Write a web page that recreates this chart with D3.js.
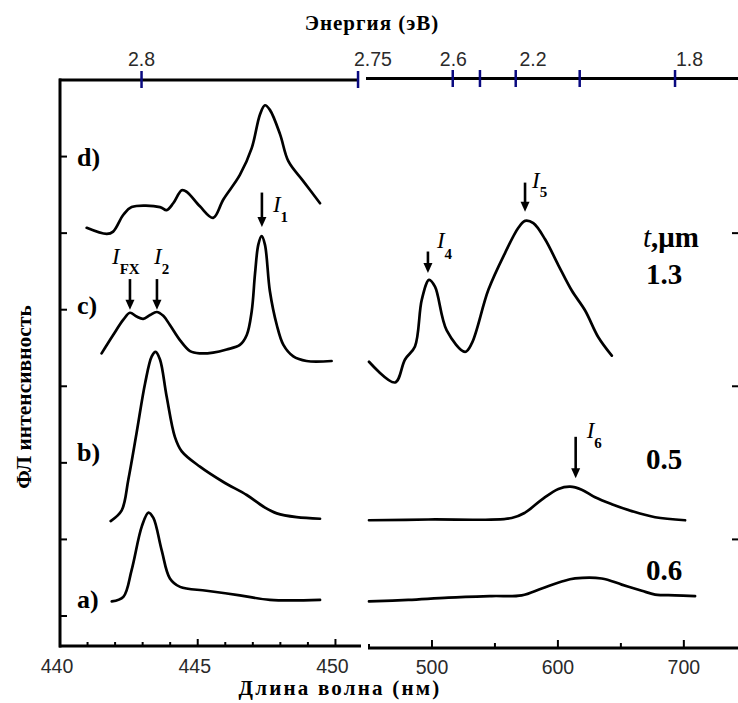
<!DOCTYPE html>
<html><head><meta charset="utf-8">
<script src="https://cdn.jsdelivr.net/npm/d3@7"></script>
<style>body{margin:0;background:#fff}svg{display:block}</style>
</head><body>
<svg id="chart" width="738" height="703"></svg>
<script>
// ---------- data (wavelength nm, intensity in tick units) ----------
const curveLabels = ["a)", "b)", "c)", "d)"];
const curveLabelLevel = [0.10, 2.02, 3.95, 5.88];
const thicknessLabels = ["0.6", "0.5", "1.3"];
const thicknessLevel = [0.47, 1.92, 4.34];
const thicknessTitleLevel = 4.82;

const aLeft = [[441.88,0.19],[442.30,0.25],[442.60,0.60],[442.97,1.17],[443.21,1.35],[443.39,1.28],[443.69,0.86],[443.99,0.49],[444.36,0.38],[445.32,0.33],[446.53,0.27],[447.62,0.21],[449.44,0.21]];
const aRight = [[450,0.19],[481.2,0.21],[513.0,0.24],[547.5,0.26],[571.3,0.27],[587.2,0.36],[603.1,0.45],[613.6,0.49],[634.8,0.49],[650.7,0.41],[666.6,0.33],[677.2,0.28],[693.0,0.27],[708.9,0.26]];
const bLeft = [[441.84,1.24],[442.24,1.38],[442.48,1.78],[442.78,2.39],[443.09,3.04],[443.33,3.39],[443.47,3.45],[443.63,3.35],[443.87,2.87],[444.17,2.34],[444.42,2.15],[445.08,1.95],[445.93,1.75],[446.78,1.58],[447.38,1.43],[447.87,1.34],[448.59,1.29],[449.44,1.27]];
const bRight = [[450,1.25],[497.1,1.26],[563.3,1.28],[573.9,1.35],[587.2,1.52],[600.4,1.66],[609.7,1.69],[618.9,1.65],[629.5,1.55],[642.8,1.46],[658.7,1.37],[677.2,1.29],[701.0,1.25]];
const cLeft = [[441.51,3.43],[441.93,3.67],[442.30,3.87],[442.54,3.96],[442.78,3.91],[443.02,3.88],[443.27,3.93],[443.51,3.97],[443.75,3.92],[443.99,3.80],[444.36,3.60],[444.72,3.46],[445.08,3.43],[445.56,3.44],[446.05,3.48],[446.53,3.54],[446.78,3.67],[446.96,3.98],[447.08,4.47],[447.20,4.85],[447.32,4.96],[447.44,4.85],[447.62,4.24],[447.87,3.80],[448.11,3.54],[448.47,3.39],[448.95,3.33],[449.86,3.33]];
const cRight = [[450,3.32],[470.7,3.05],[478.6,3.35],[486.5,3.52],[491.9,4.13],[497.7,4.39],[502.4,4.30],[511.7,3.73],[526.3,3.45],[531.6,3.56],[544.8,4.26],[558.0,4.74],[568.6,5.07],[573.9,5.16],[580.5,5.13],[589.8,4.92],[600.4,4.58],[611.0,4.25],[621.6,3.99],[632.1,3.64],[642.8,3.40]];
const dLeft = [[440.97,5.07],[441.70,4.99],[441.93,5.02],[442.30,5.24],[442.60,5.34],[443.63,5.34],[443.87,5.30],[444.11,5.39],[444.42,5.56],[444.60,5.54],[445.08,5.35],[445.56,5.20],[445.93,5.44],[446.53,5.76],[446.96,6.11],[447.26,6.55],[447.44,6.67],[447.62,6.61],[447.99,6.29],[448.29,5.94],[448.83,5.68],[449.44,5.39]];

// axis ticks
const leftMajor = [440, 445, 450];
const leftMinor = [441, 442, 443, 444, 446, 447, 448, 449];
const rightMajor = [500, 600, 700];
const rightMinor = [550, 650];
const yTicks = [0, 1, 2, 3, 4, 5, 6];
const yTicksRight = [1, 3, 5];
// top energy axis: tick positions read in nm, labels in eV
const topTicksLeft = [442.96, 450.82];
const topTicksRight = [516.5, 538.1, 566.5, 617.3, 693.0];
const topLabels = ["2.8", "2.75", "2.6", "2.2", "1.8"];
const topLabelNm = [442.96, 451.36, 517.0, 580.2, 704.5];
const topLabelPanel = [0, 0, 1, 1, 1];

// peak arrows: [nm, panel, fromLevel, toLevel, subscript]
const arrows = [
  [442.54, 0, 4.40, 4.00, "FX"],
  [443.52, 0, 4.40, 4.00, "2"],
  [447.33, 0, 5.53, 5.08, "1"],
  [496.8, 1, 4.76, 4.48, "4"],
  [573.9, 1, 5.66, 5.28, "5"],
  [614.1, 1, 2.34, 1.80, "6"]
];

// ---------- scales ----------
const svg = d3.select("#chart");
const xL = d3.scaleLinear().domain([440, 451]).range([60, 363]);
const xR = d3.scaleLinear().domain([450, 743]).range([369, 738]);
const y = d3.scaleLinear().domain([-0.392, 7]).range([646, 80]);
const xs = [xL, xR];

const serif = "'Liberation Serif','Times New Roman',serif";
const sans = "'Liberation Sans',Arial,sans-serif";

// ---------- axes ----------
const ax = svg.append("g").attr("stroke", "#000").attr("fill", "none");
ax.append("line").attr("x1", 60).attr("x2", 60).attr("y1", y(7) - 1.5).attr("y2", y.range()[0] + 1.5).attr("stroke-width", 3);
ax.selectAll(".yt").data(yTicks).join("line")
  .attr("x1", 60).attr("x2", 67).attr("y1", d => y(d)).attr("y2", d => y(d)).attr("stroke-width", 2);
ax.selectAll(".yr").data(yTicksRight).join("line")
  .attr("x1", 732).attr("x2", 738).attr("y1", d => y(d)).attr("y2", d => y(d)).attr("stroke-width", 2);
ax.append("line").attr("x1", 59).attr("x2", xL(topTicksLeft[1])).attr("y1", y(7)).attr("y2", y(7)).attr("stroke-width", 3);
ax.append("line").attr("x1", 366).attr("x2", 738).attr("y1", y(7) - 1.5).attr("y2", y(7) - 1.5).attr("stroke-width", 3);
ax.append("line").attr("x1", 59).attr("x2", 361).attr("y1", 646).attr("y2", 646).attr("stroke-width", 3);
ax.append("line").attr("x1", 368).attr("x2", 738).attr("y1", 648).attr("y2", 648).attr("stroke-width", 3);
ax.append("line").attr("x1", 369).attr("x2", 369).attr("y1", 644).attr("y2", 649).attr("stroke-width", 2);

ax.selectAll(".lM").data(leftMajor.filter(d => d > 440)).join("line")
  .attr("x1", d => xL(d)).attr("x2", d => xL(d)).attr("y1", 646).attr("y2", 639).attr("stroke-width", 2);
ax.selectAll(".lm").data(leftMinor).join("line")
  .attr("x1", d => xL(d)).attr("x2", d => xL(d)).attr("y1", 646).attr("y2", 642).attr("stroke-width", 2);
ax.selectAll(".rM").data(rightMajor).join("line")
  .attr("x1", d => xR(d)).attr("x2", d => xR(d)).attr("y1", 648).attr("y2", 640).attr("stroke-width", 2);
ax.selectAll(".rm").data(rightMinor).join("line")
  .attr("x1", d => xR(d)).attr("x2", d => xR(d)).attr("y1", 648).attr("y2", 643).attr("stroke-width", 2);

const tt = svg.append("g").attr("stroke", "#0a0a80").attr("stroke-width", 2.5);
tt.selectAll(".tl").data(topTicksLeft).join("line")
  .attr("x1", d => xL(d)).attr("x2", d => xL(d)).attr("y1", 71).attr("y2", 88);
tt.selectAll(".tr").data(topTicksRight).join("line")
  .attr("x1", d => xR(d)).attr("x2", d => xR(d)).attr("y1", 70).attr("y2", 87);

// tick labels
const tickFont = 19.5;
svg.append("g").selectAll("text").data(leftMajor).join("text")
  .attr("x", d => xL(d) - 3).attr("y", 673).attr("text-anchor", "middle")
  .attr("font-family", sans).attr("font-size", tickFont).attr("fill", "#2a2a2a").text(d => d);
svg.append("g").selectAll("text").data(rightMajor).join("text")
  .attr("x", d => xR(d)).attr("y", 674).attr("text-anchor", "middle")
  .attr("font-family", sans).attr("font-size", tickFont).attr("fill", "#2a2a2a").text(d => d);
svg.append("g").selectAll("text").data(topLabels).join("text")
  .attr("x", (d, i) => xs[topLabelPanel[i]](topLabelNm[i])).attr("y", 66).attr("text-anchor", "middle")
  .attr("font-family", sans).attr("font-size", tickFont).attr("fill", "#2a2a2a").text(d => d);

// axis titles
svg.append("text").attr("x", 372).attr("y", 30).attr("text-anchor", "middle")
  .attr("font-family", serif).attr("font-weight", "bold").attr("font-size", 21)
  .attr("letter-spacing", 1).text("Энергия (эВ)");
svg.append("text").attr("x", 340).attr("y", 695).attr("text-anchor", "middle")
  .attr("font-family", serif).attr("font-weight", "bold").attr("font-size", 21)
  .attr("letter-spacing", 2.2).text("Длина волна (нм)");
svg.append("text").attr("transform", "translate(31,397) rotate(-90)").attr("text-anchor", "middle")
  .attr("font-family", serif).attr("font-weight", "bold").attr("font-size", 21.5).text("ФЛ интенсивность");

// ---------- curves ----------
const lineL = d3.line().x(d => xL(d[0])).y(d => y(d[1])).curve(d3.curveCatmullRom.alpha(0.5));
const lineR = d3.line().x(d => xR(d[0])).y(d => y(d[1])).curve(d3.curveCatmullRom.alpha(0.5));
const cg = svg.append("g").attr("fill", "none").attr("stroke", "#000").attr("stroke-width", 2.7)
  .attr("stroke-linejoin", "round").attr("stroke-linecap", "round");
[aLeft, bLeft, cLeft, dLeft].forEach(s => cg.append("path").attr("d", lineL(s)));
[aRight, bRight, cRight].forEach(s => cg.append("path").attr("d", lineR(s)));

// curve labels
svg.append("g").selectAll("text").data(curveLabels).join("text")
  .attr("x", 77).attr("y", (d, i) => y(curveLabelLevel[i]))
  .attr("font-family", serif).attr("font-weight", "bold").attr("font-size", 26).text(d => d);

// thickness labels
svg.append("g").selectAll("text").data(thicknessLabels).join("text")
  .attr("x", 646).attr("y", (d, i) => y(thicknessLevel[i]))
  .attr("font-family", serif).attr("font-weight", "bold").attr("font-size", 29).text(d => d);
const tl = svg.append("text").attr("x", 643).attr("y", y(thicknessTitleLevel))
  .attr("font-family", serif).attr("font-weight", "bold").attr("font-size", 29);
tl.append("tspan").attr("font-style", "italic").attr("font-weight", "normal").text("t");
tl.append("tspan").text(",μm");

// arrows
const ag = svg.append("g");
arrows.forEach(a => {
  const x = xs[a[1]](a[0]), y1 = y(a[2]), y2 = y(a[3]);
  ag.append("line").attr("x1", x).attr("x2", x).attr("y1", y1).attr("y2", y2 - 8)
    .attr("stroke", "#000").attr("stroke-width", 2.6);
  ag.append("path").attr("d", `M${x - 4.5},${y2 - 10}L${x + 4.5},${y2 - 10}L${x},${y2}Z`).attr("fill", "#000");
});

// arrow labels: italic I with bold subscript
const labelOffsets = [[-18, -15, 10], [-3, -15, 10], [11, 19, 10], [9, -4, 11], [7, 5, 9], [11, 1, 10]];
arrows.forEach((a, i) => {
  const x = xs[a[1]](a[0]), y1 = y(a[2]);
  const [dx, dy, sdy] = labelOffsets[i];
  const t = svg.append("text").attr("x", x + dx).attr("y", y1 + dy).attr("font-family", serif);
  t.append("tspan").attr("font-style", "italic").attr("font-size", 23).text("I");
  t.append("tspan").attr("font-weight", "bold").attr("font-size", 15).attr("dx", 0).attr("dy", sdy).text(a[4]);
});
</script>
</body></html>
